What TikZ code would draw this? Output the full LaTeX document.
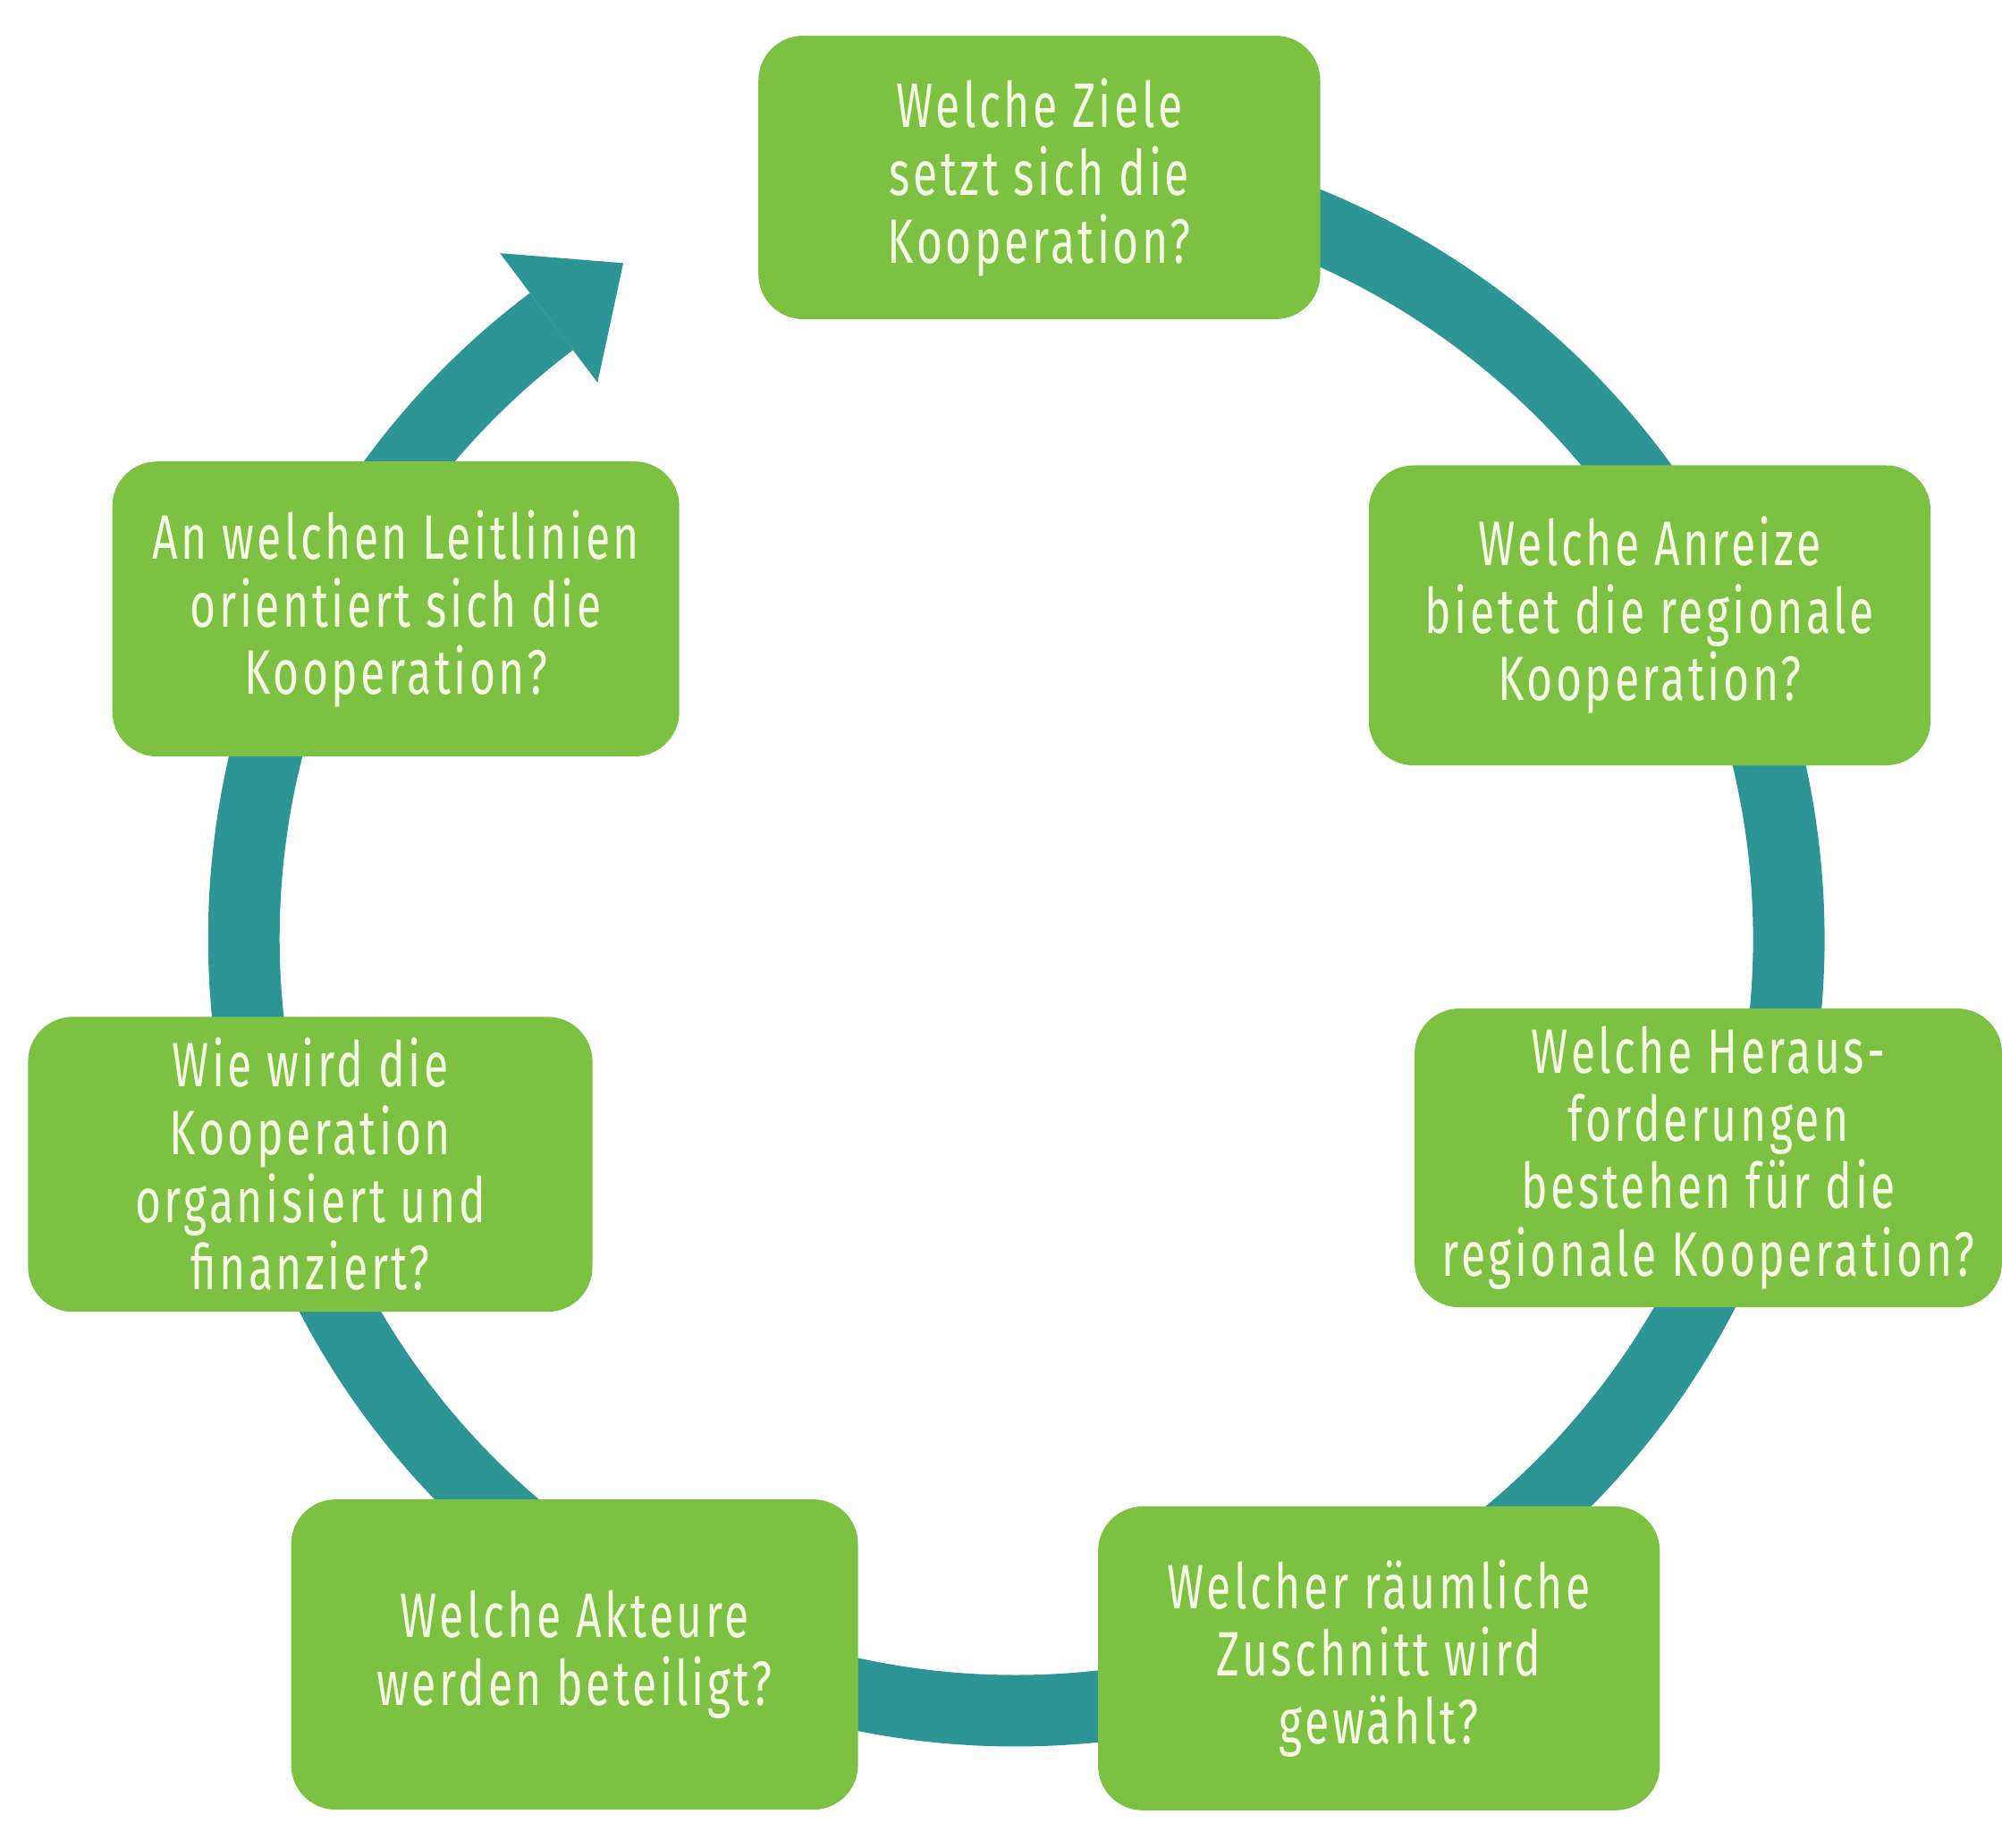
\documentclass[tikz,border=0pt]{standalone}
\usepackage{fontspec}
\setmainfont{Fira Sans}[FakeStretch=0.71,LetterSpace=5]
\usepackage{tikz}
\usetikzlibrary{arrows,shapes}
\definecolor{leafgreen}{HTML}{7DC142}
\definecolor{ringteal}{HTML}{2E9596}
\definecolor{cream}{HTML}{F6FAE4}
\tikzstyle{question} = [rectangle, rounded corners=0.35cm, fill=leafgreen, text=cream, align=center, inner sep=0pt, minimum width=4.4cm, font=\fontsize{14}{15.1}\selectfont]
\tikzstyle{ring} = [draw=ringteal, line width=0.56cm]
\tikzstyle{ringhead} = [fill=ringteal]

\begin{document}
\begin{tikzpicture}
    \useasboundingbox (0,0) rectangle (15.68,-14.47);
    \coordinate (ctr) at (7.96,-7.35);

    % ring with arrow head, behind the boxes
    \begin{scope}[shift={(ctr)}]
      \draw [ring] (95:6.05) arc [start angle=95, end angle=-233, radius=6.05];
      \fill [ringhead] (127:5.45) -- (120.2:6.12) -- (127:6.72) -- cycle;
    \end{scope}

    % questions, clockwise from the top
    \node [question, minimum height=2.22cm] (ziele) at (8.14,-1.39)
      {Welche Ziele\\setzt sich die\\Kooperation?};
    \node [question, minimum height=2.35cm] (anreize) at (12.92,-4.82)
      {Welche Anreize\\bietet die regionale\\Kooperation?};
    \node [question, minimum width=4.6cm, minimum height=2.34cm] (heraus) at (13.38,-9.07)
      {Welche Heraus-\\forderungen\\bestehen für die\\regionale Kooperation?};
    \node [question, minimum height=2.38cm] (zuschnitt) at (10.80,-12.99)
      {Welcher räumliche\\Zuschnitt wird\\gewählt?};
    \node [question, minimum width=4.44cm, minimum height=2.43cm] (akteure) at (4.50,-12.96)
      {Welche Akteure\\werden beteiligt?};
    \node [question, minimum width=4.42cm, minimum height=2.31cm] (organisation) at (2.43,-9.12)
      {Wie wird die\\Kooperation\\organisiert und\\finanziert?};
    \node [question, minimum width=4.44cm, minimum height=2.31cm] (leitlinien) at (3.10,-4.77)
      {An welchen Leitlinien\\orientiert sich die\\Kooperation?};
\end{tikzpicture}
\end{document}
